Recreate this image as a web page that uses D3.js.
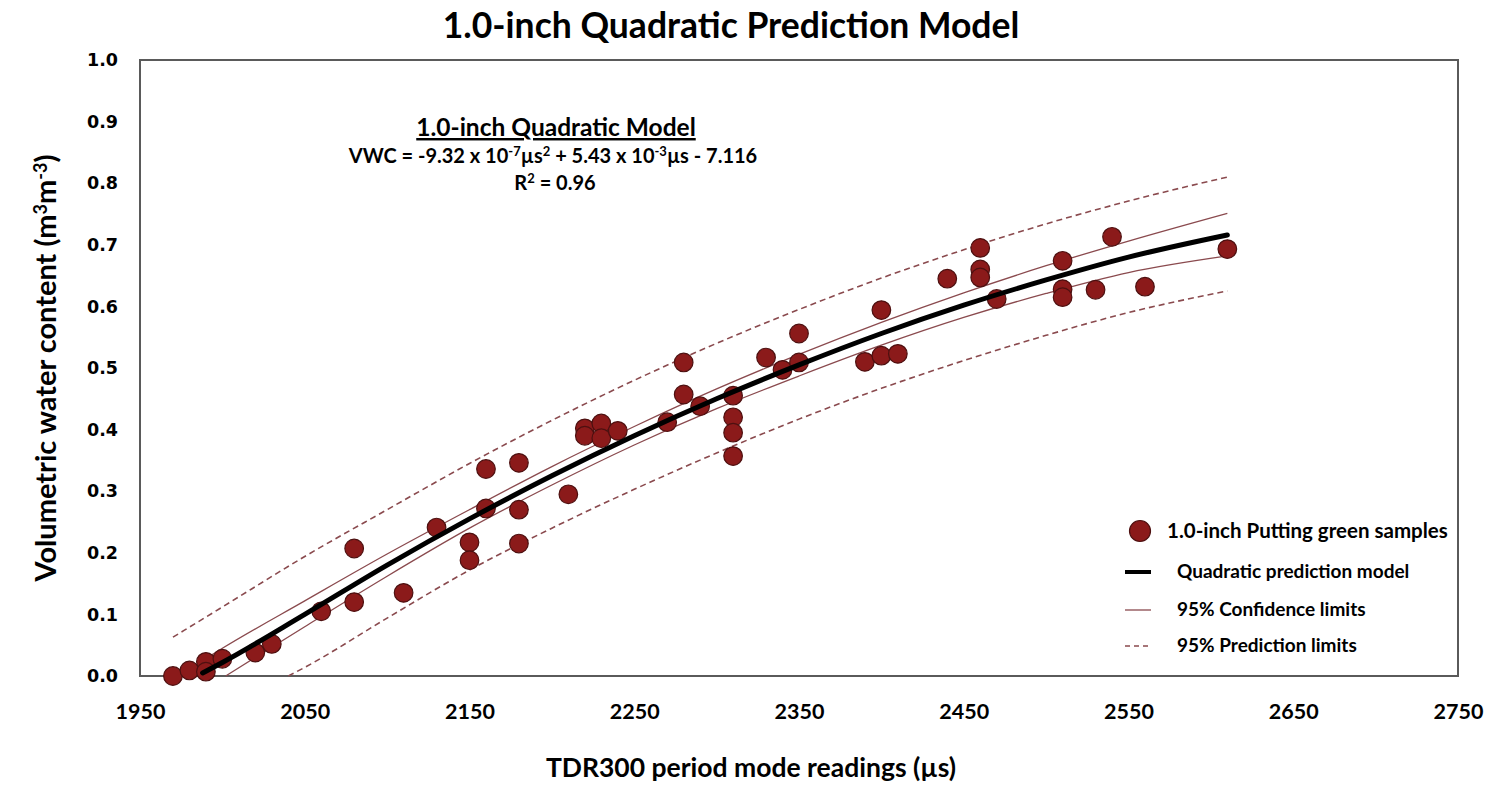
<!DOCTYPE html>
<html><head><meta charset="utf-8">
<script src="https://cdn.jsdelivr.net/npm/d3@7"></script>
<style>
body{margin:0;background:#fff;}
svg{display:block;}
text{font-family:Lato,"Open Sans",sans-serif;font-weight:700;fill:#000;}
</style></head>
<body>
<svg id="chart" width="1500" height="791"></svg>
<script>
// ---- data ----
const sampleX = [1970,1980,1990,1990,2000,2020,2030,2060,2080,2080,2110,2130,2150,2150,2160,2160,2180,2180,2180,2210,2220,2220,2230,2230,2240,2270,2280,2280,2290,2310,2310,2310,2310,2330,2340,2350,2350,2390,2400,2400,2410,2440,2460,2460,2460,2470,2510,2510,2510,2530,2540,2560,2610];
const sampleY = [0.000,0.009,0.023,0.007,0.028,0.038,0.052,0.105,0.120,0.207,0.135,0.241,0.217,0.188,0.272,0.336,0.346,0.270,0.215,0.295,0.402,0.390,0.410,0.386,0.398,0.412,0.509,0.457,0.438,0.455,0.420,0.395,0.357,0.517,0.497,0.556,0.509,0.510,0.594,0.520,0.523,0.645,0.695,0.660,0.647,0.612,0.674,0.628,0.615,0.627,0.713,0.632,0.693];

const fitX = [1988,2000,2050,2100,2150,2200,2250,2300,2350,2400,2450,2500,2550,2610];
const fitY = [0.005,0.022,0.100,0.180,0.255,0.325,0.390,0.450,0.505,0.556,0.602,0.643,0.680,0.716];

const ciUpperX = [1988,2000,2050,2100,2150,2200,2250,2300,2350,2400,2450,2500,2550,2610];
const ciUpperY = [0.025,0.045,0.122,0.198,0.270,0.340,0.405,0.466,0.522,0.574,0.622,0.666,0.706,0.751];
const ciLowerX = [2002,2050,2100,2150,2200,2250,2300,2350,2400,2450,2500,2550,2610];
const ciLowerY = [0.000,0.080,0.162,0.240,0.310,0.375,0.434,0.487,0.537,0.582,0.621,0.655,0.682];

const piUpperX = [1970,2000,2050,2100,2150,2200,2250,2300,2350,2400,2450,2500,2550,2610];
const piUpperY = [0.063,0.112,0.194,0.270,0.345,0.415,0.480,0.540,0.595,0.646,0.692,0.734,0.771,0.810];
const piLowerX = [2040,2050,2100,2150,2200,2250,2300,2350,2400,2450,2500,2550,2610];
const piLowerY = [0.000,0.014,0.094,0.172,0.240,0.303,0.362,0.417,0.467,0.512,0.553,0.590,0.625];

const xTicks = [1950,2050,2150,2250,2350,2450,2550,2650,2750];
const yTicks = [0.0,0.1,0.2,0.3,0.4,0.5,0.6,0.7,0.8,0.9,1.0];

const legendLabels = ["1.0-inch Putting green samples","Quadratic prediction model","95% Confidence  limits","95% Prediction  limits"];

// ---- layout ----
const svg = d3.select("#chart");
const L = 140, R = 1458, T = 60, B = 676;
const x = d3.scaleLinear().domain([1950,2750]).range([L,R]);
const y = d3.scaleLinear().domain([0,1]).range([B,T]);

const dotFill = "#8b1a1a", dotStroke = "#4d1010", limitColor = "#8a4a4e";

// frame
svg.append("rect").attr("x",L).attr("y",T).attr("width",R-L).attr("height",B-T)
  .attr("fill","none").attr("stroke","#5a5a5a").attr("stroke-width",2);

// axes (labels only)
const xAxis = d3.axisBottom(x).tickValues(xTicks).tickFormat(d3.format("d")).tickSize(0).tickPadding(28);
const gx = svg.append("g").attr("transform",`translate(0,${B})`).call(xAxis);
gx.select(".domain").remove();
gx.selectAll("text").style("font-family","Lato,sans-serif").style("font-weight","700").style("font-size","21.5px").attr("fill","#000");

const yAxis = d3.axisLeft(y).tickValues(yTicks).tickFormat(d3.format(".1f")).tickSize(0).tickPadding(22);
const gy = svg.append("g").attr("transform",`translate(${L},0)`).call(yAxis);
gy.select(".domain").remove();
gy.selectAll("text").style("font-family","'DejaVu Sans',Verdana,sans-serif").style("font-weight","700").style("font-size","17.5px").attr("fill","#000");

// lines
const line = d3.line().x(d=>x(d[0])).y(d=>y(d[1])).curve(d3.curveMonotoneX);
const zip = (a,b)=>a.map((v,i)=>[v,b[i]]);

[[piUpperX,piUpperY],[piLowerX,piLowerY]].forEach(([a,b])=>{
  svg.append("path").datum(zip(a,b)).attr("d",line).attr("fill","none")
    .attr("stroke",limitColor).attr("stroke-width",1.6).attr("stroke-dasharray","6,4");
});
[[ciUpperX,ciUpperY],[ciLowerX,ciLowerY]].forEach(([a,b])=>{
  svg.append("path").datum(zip(a,b)).attr("d",line).attr("fill","none")
    .attr("stroke",limitColor).attr("stroke-width",1.3);
});

// points
svg.append("g").selectAll("circle").data(zip(sampleX,sampleY)).join("circle")
  .attr("cx",d=>x(d[0])).attr("cy",d=>y(d[1])).attr("r",9.3)
  .attr("fill",dotFill).attr("stroke",dotStroke).attr("stroke-width",1.2);

// fit line
svg.append("path").datum(zip(fitX,fitY)).attr("d",line).attr("fill","none")
  .attr("stroke","#000").attr("stroke-width",5).attr("stroke-linecap","round");

// title
svg.append("text").attr("x",731).attr("y",38).attr("text-anchor","middle")
  .style("font-size","35.5px").text("1.0-inch Quadratic Prediction Model");

// annotation
svg.append("text").attr("x",556).attr("y",136).attr("text-anchor","middle")
  .style("font-size","24.5px").style("text-decoration","underline").text("1.0-inch Quadratic Model");
const eq = svg.append("text").attr("x",553).attr("y",163).attr("text-anchor","middle").style("font-size","20px");
eq.append("tspan").text("VWC = -9.32 x 10");
eq.append("tspan").attr("dy",-7).style("font-size","13px").text("-7");
eq.append("tspan").attr("dy",7).text("µs");
eq.append("tspan").attr("dy",-7).style("font-size","13px").text("2");
eq.append("tspan").attr("dy",7).text(" + 5.43 x 10");
eq.append("tspan").attr("dy",-7).style("font-size","13px").text("-3");
eq.append("tspan").attr("dy",7).text("µs - 7.116");
const r2 = svg.append("text").attr("x",555).attr("y",190).attr("text-anchor","middle").style("font-size","20px");
r2.append("tspan").text("R");
r2.append("tspan").attr("dy",-7).style("font-size","13px").text("2");
r2.append("tspan").attr("dy",7).text(" = 0.96");

// axis titles
svg.append("text").attr("x",751).attr("y",777).attr("text-anchor","middle")
  .style("font-size","26.5px").text("TDR300 period mode readings (µs)");
const yt = svg.append("text").attr("transform","translate(56,368) rotate(-90)").attr("text-anchor","middle").style("font-size","29px");
yt.append("tspan").text("Volumetric water content (m");
yt.append("tspan").attr("dy",-9).style("font-size","18px").text("3");
yt.append("tspan").attr("dy",9).text("m");
yt.append("tspan").attr("dy",-9).style("font-size","18px").text("-3");
yt.append("tspan").attr("dy",9).text(")");

// legend
const lg = svg.append("g");
lg.append("circle").attr("cx",1140).attr("cy",531).attr("r",10.5).attr("fill",dotFill).attr("stroke",dotStroke).attr("stroke-width",1.2);
lg.append("text").attr("x",1167).attr("y",538).style("font-size","20.5px").text(legendLabels[0]);
const rows = [{y:572,w:4,c:"#000",dash:null},{y:610,w:1.3,c:limitColor,dash:null},{y:646,w:1.6,c:limitColor,dash:"5,4"}];
rows.forEach((r,i)=>{
  lg.append("line").attr("x1",1125).attr("x2",1151).attr("y1",r.y).attr("y2",r.y)
    .attr("stroke",r.c).attr("stroke-width",r.w).attr("stroke-dasharray",r.dash);
  lg.append("text").attr("x",1177).attr("y",r.y+6).style("font-size","19px").text(legendLabels[i+1]);
});
</script>
</body></html>
